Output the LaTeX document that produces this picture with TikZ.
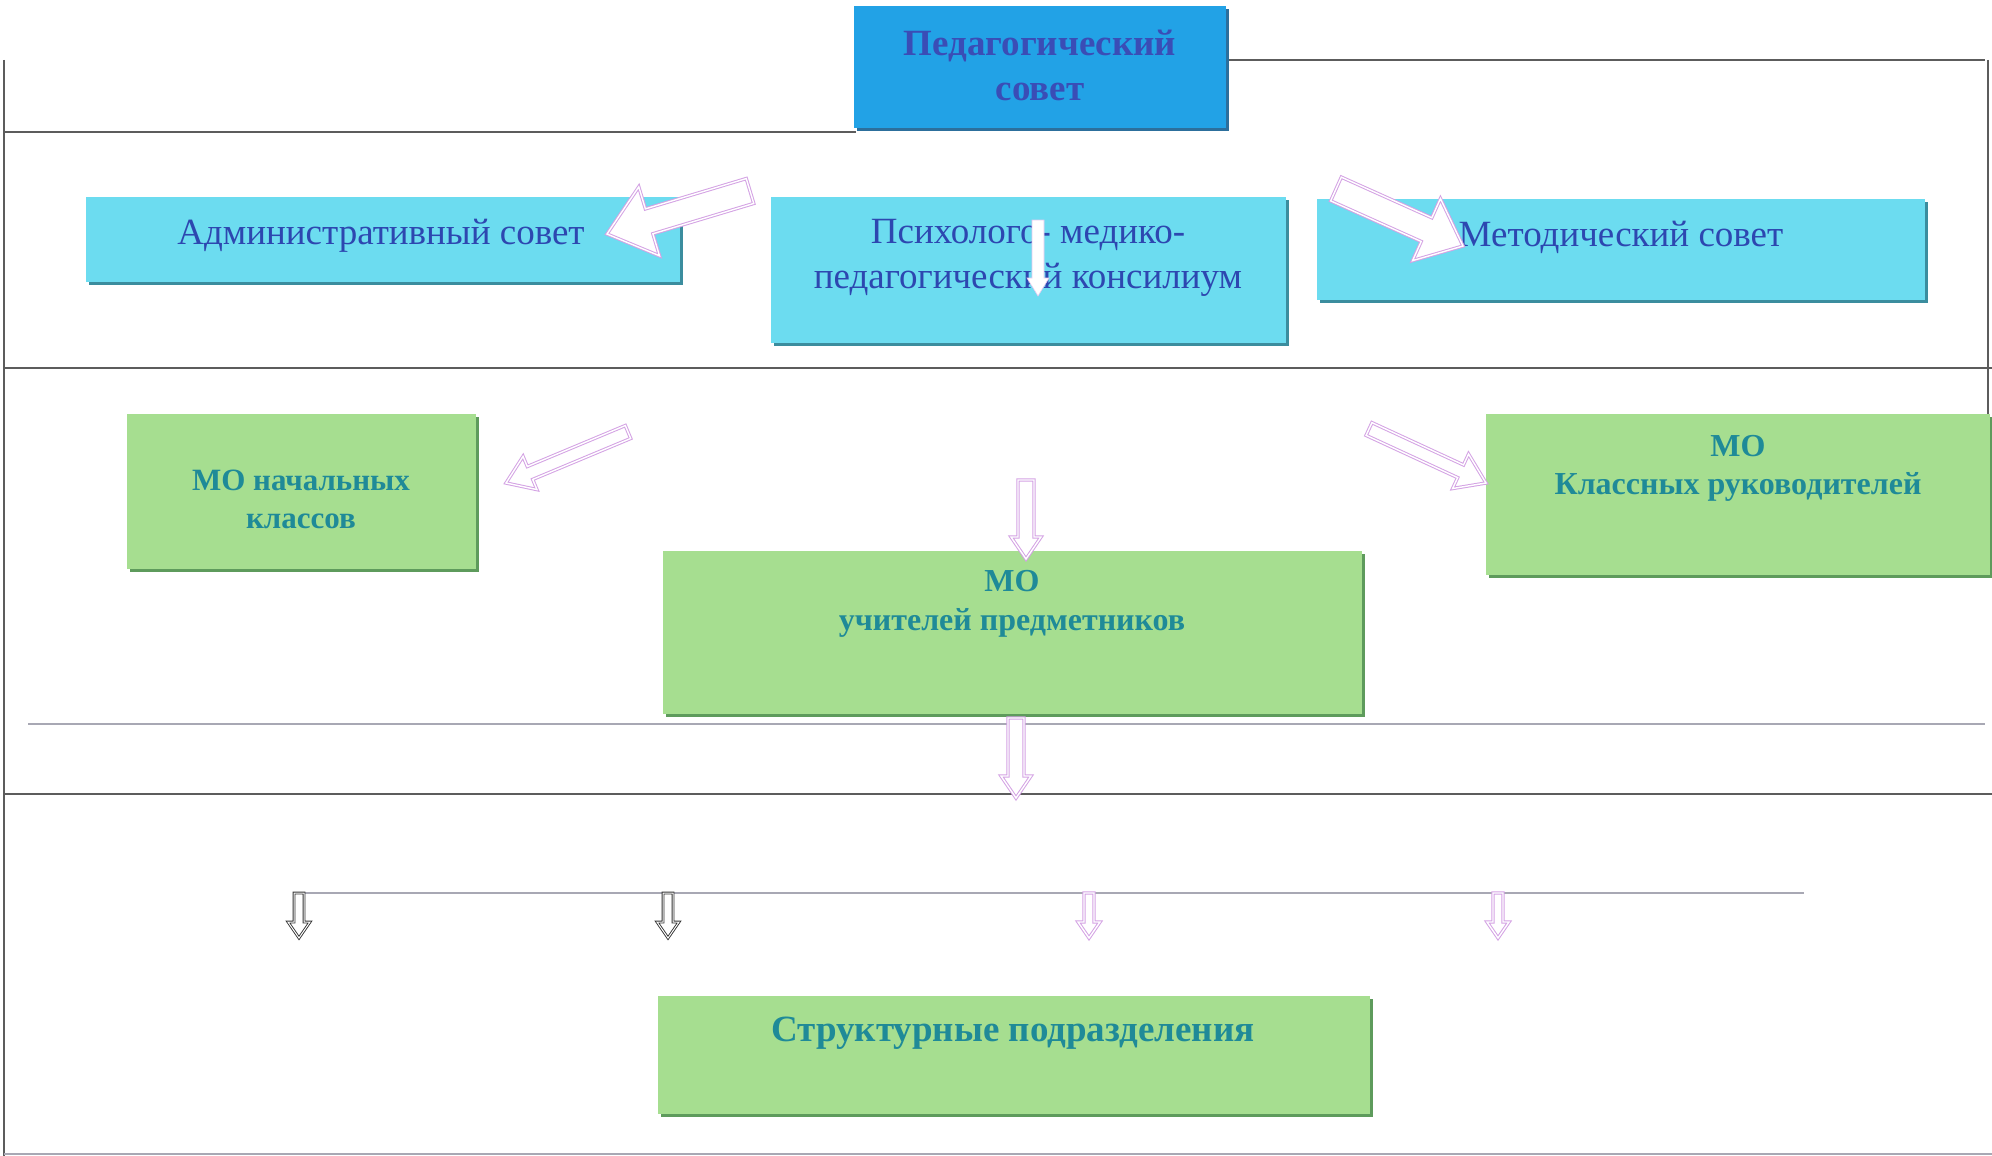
\documentclass[tikz,border=0pt]{standalone}
\usepackage{fontspec}
\setmainfont{Liberation Serif}
\usetikzlibrary{calc}
\definecolor{pedblue}{HTML}{22A2E6}
\definecolor{pedtext}{HTML}{3A4DB6}
\definecolor{pedshadow}{HTML}{2C6F9C}
\definecolor{cyanbox}{HTML}{6CDCF0}
\definecolor{cyantext}{HTML}{2D47B0}
\definecolor{cyanshadow}{HTML}{3B8D9E}
\definecolor{greenbox}{HTML}{A6DE90}
\definecolor{greentext}{HTML}{1F8A98}
\definecolor{greenshadow}{HTML}{5E9B5C}
\definecolor{arrowpink}{HTML}{D4A2E4}
\definecolor{rulegray}{HTML}{5C5C5C}
\definecolor{rulelight}{HTML}{A8A8B4}
\newcommand\blockarr[6][]{%
  \coordinate (ba-h) at ($(#3)!#6!(#2)$);
  \draw[#1] ($(#2)!#4!90:(#3)$) -- ($(ba-h)!#4!-90:(#2)$) -- ($(ba-h)!#5!-90:(#2)$) -- (#3)
    -- ($(ba-h)!#5!90:(#2)$) -- ($(ba-h)!#4!90:(#2)$) -- ($(#2)!#4!-90:(#3)$) -- cycle;
}
\begin{document}
\begin{tikzpicture}[x=1pt,y=-1pt,
  box/.style 2 args={rectangle, inner sep=0pt, outer sep=0pt, fill=#1,
    preaction={fill=#2, transform canvas={shift={(3pt,-3pt)}}}},
  rule/.style={draw=rulegray, line width=1.3pt},
  lightrule/.style={draw=rulelight, line width=1.1pt},
  barrow/.style={fill=white, draw=arrowpink, line width=1pt, double=white, double distance=1.4pt, line join=miter},
  darrow/.style={fill=white, draw=black!80, line width=0.9pt, double=white, double distance=1pt},
  btext/.style={font=\fontsize{37}{45}\selectfont, text=cyantext, align=center},
  gtext/.style={font=\bfseries\fontsize{31}{38}\selectfont, text=greentext, align=center}]
\useasboundingbox[fill=white] (0,0) rectangle (1992,1156);

% separator rules
\draw[rule] (4,60) -- (4,1156);
\draw[rule] (4,132) -- (856,132);
\draw[rule] (1226,60) -- (1985,60);
\draw[rule] (1988,60) -- (1988,414);
\draw[rule] (4,368) -- (1992,368);
\draw[lightrule] (28,724) -- (1985,724);
\draw[rule] (4,794) -- (1992,794);
\draw[lightrule] (300,893) -- (1804,893);
\draw[lightrule] (4,1154) -- (1992,1154);

% boxes
\node[box={pedblue}{pedshadow}, minimum width=372pt, minimum height=122pt] (ped) at (1040,67) {};
\node[box={cyanbox}{cyanshadow}, minimum width=594pt, minimum height=85pt] (adm) at (383,239.5) {};
\node[box={cyanbox}{cyanshadow}, minimum width=515pt, minimum height=146pt] (psy) at (1028.5,270) {};
\node[box={cyanbox}{cyanshadow}, minimum width=608pt, minimum height=101pt] (met) at (1621,249.5) {};
\node[box={greenbox}{greenshadow}, minimum width=349pt, minimum height=155pt] (mon) at (301.5,491.5) {};
\node[box={greenbox}{greenshadow}, minimum width=699pt, minimum height=163pt] (mop) at (1012.5,632.5) {};
\node[box={greenbox}{greenshadow}, minimum width=504pt, minimum height=161pt] (mok) at (1738,494.5) {};
\node[box={greenbox}{greenshadow}, minimum width=712pt, minimum height=118pt] (str) at (1014,1055) {};

% texts
\node[font=\bfseries\fontsize{37}{45}\selectfont, text=pedtext, align=center] (pedT) at (1040,65) {Педагогический\\совет};
\node[btext] (admT) at (381,236) {Административный совет};
\node[btext] (psyT) at (1028,258) {Психолого- медико-\\педагогический консилиум};
\node[btext] (metT) at (1621,237) {Методический совет};
\node[gtext] (monT) at (301,499) {МО начальных\\классов};
\node[gtext, font=\bfseries\fontsize{32}{39}\selectfont] (mopT) at (1012,604) {МО\\учителей предметников};
\node[gtext, font=\bfseries\fontsize{32}{38}\selectfont] (mokT) at (1738,468) {МО\\Классных руководителей};
\node[gtext, font=\bfseries\fontsize{37}{45}\selectfont] (strT) at (1013,1033) {Структурные подразделения};

% arrow end points
\coordinate (a1s) at (750,191);  \coordinate (a1e) at (607,234);
\coordinate (a2s) at (1336,189); \coordinate (a2e) at (1463,246);
\coordinate (a3s) at (628,432);  \coordinate (a3e) at (506,483);
\coordinate (a4s) at (1369,429); \coordinate (a4e) at (1486,483);
\coordinate (a5s) at (1026,480); \coordinate (a5e) at (1026,559);
\coordinate (a6s) at (1016,718); \coordinate (a6e) at (1016,798);
\coordinate (a7s) at (299,893);  \coordinate (a7e) at (299,938);
\coordinate (a8s) at (668,893);  \coordinate (a8e) at (668,938);
\coordinate (a9s) at (1089,893); \coordinate (a9e) at (1089,938);
\coordinate (a10s) at (1498,893); \coordinate (a10e) at (1498,938);
\coordinate (a11s) at (1038,220); \coordinate (a11e) at (1038,296);

% block arrows
\blockarr[barrow]{a1s}{a1e}{13pt}{36pt}{44pt}
\blockarr[barrow]{a2s}{a2e}{13pt}{34pt}{40pt}
\blockarr[barrow]{a3s}{a3e}{7pt}{18pt}{26pt}
\blockarr[barrow]{a4s}{a4e}{7pt}{19pt}{28pt}
\blockarr[barrow]{a5s}{a5e}{8pt}{15pt}{22pt}
\blockarr[barrow]{a6s}{a6e}{8pt}{15pt}{22pt}
\blockarr[darrow]{a7s}{a7e}{5pt}{11pt}{16pt}
\blockarr[darrow]{a8s}{a8e}{5pt}{11pt}{16pt}
\blockarr[barrow]{a9s}{a9e}{5pt}{11pt}{16pt}
\blockarr[barrow]{a10s}{a10e}{5pt}{11pt}{16pt}
\blockarr[fill=white, draw=arrowpink!60, line width=0.6pt]{a11s}{a11e}{6pt}{11pt}{18pt}
\end{tikzpicture}
\end{document}
